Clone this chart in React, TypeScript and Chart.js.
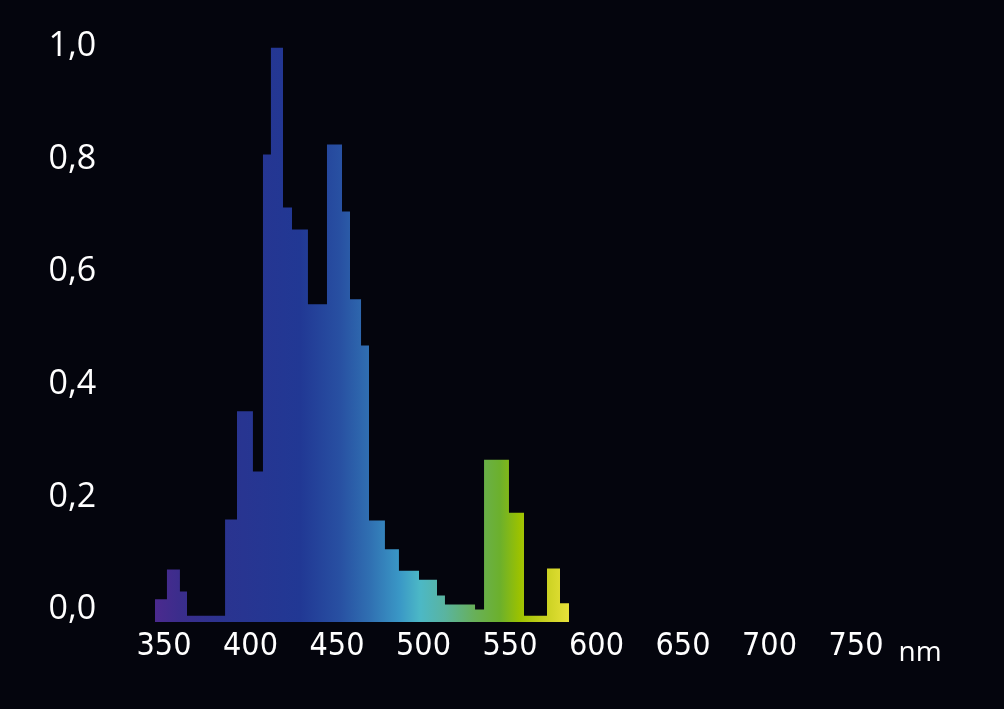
import React, { useEffect, useRef } from 'react';
import { Chart, registerables } from 'chart.js';

Chart.register(...registerables);

// Wavelength (nm) where each step of the spectrum begins
const binStarts = [
  344.8, 351.7, 359.2, 363.3, 385.3, 392.2, 401.4, 407.2, 411.8, 418.8,
  424.0, 433.2, 444.2, 452.9, 457.5, 463.9, 468.5, 477.7, 485.8, 497.4,
  507.8, 512.4, 529.8, 535.0, 549.4, 558.1, 571.4, 578.9,
];
const binEnd = 584.1;
// Relative intensity of each step
const intensities = [
  0.018, 0.071, 0.032, -0.011, 0.16, 0.352, 0.245, 0.808, 0.998, 0.714,
  0.675, 0.542, 0.826, 0.707, 0.551, 0.469, 0.158, 0.107, 0.069, 0.053,
  0.025, 0.009, 0.0, 0.266, 0.172, -0.011, 0.073, 0.011,
];
const xTickValues = [350, 400, 450, 500, 550, 600, 650, 700, 750];
const yTickValues = [0, 0.2, 0.4, 0.6, 0.8, 1.0];
const unitLabel = 'nm';
// Spectrum colours along wavelength
const colorStopNm = [344.8, 359.2, 385.3, 428.6, 451.7, 469.1, 486.4, 498, 512.4, 529.8, 544.2, 555.8, 570.2, 584.1];
const colorStopColors = [
  '#4b2a8e', '#3b2d8c', '#2a3490', '#213894', '#2850a2', '#3070b2', '#3a98c6',
  '#4cb8c6', '#5ab4a0', '#68b058', '#6cb02c', '#9cc200', '#c8d020', '#e8e23a',
];

const BG = '#04050d';
const X_FONT = "'DejaVu Sans Condensed', 'Liberation Sans Narrow', sans-serif";
const Y_FONT = "'Open Sans', 'DejaVu Sans', sans-serif";

// layout targets (pixels)
const ZERO_PX = 609.5;
const ONE_PX = 46.5;
const LABEL_LEFT = 48.5;
const PLOT_LEFT = 146.7;

const unitPlugin = {
  id: 'unitLabel',
  afterDraw(chart: any) {
    const xs = chart.scales.x;
    const ctx = chart.ctx;
    ctx.save();
    ctx.fillStyle = '#ffffff';
    ctx.font = `28px ${Y_FONT}`;
    ctx.textAlign = 'center';
    ctx.textBaseline = 'alphabetic';
    ctx.fillText(unitLabel, xs.getPixelForValue(787), chart.chartArea.bottom + 39);
    ctx.restore();
  },
};

function spectrumFill(c: any) {
  const ch = c.chart;
  const xs = ch.scales && ch.scales.x;
  if (!xs || !ch.chartArea) return '#2a3a94';
  const x0 = xs.getPixelForValue(colorStopNm[0]);
  const x1 = xs.getPixelForValue(colorStopNm[colorStopNm.length - 1]);
  if (!isFinite(x0) || !isFinite(x1) || x0 === x1) return '#2a3a94';
  const g = ch.ctx.createLinearGradient(x0, 0, x1, 0);
  const span = colorStopNm[colorStopNm.length - 1] - colorStopNm[0];
  colorStopNm.forEach((nm, i) => {
    g.addColorStop((nm - colorStopNm[0]) / span, colorStopColors[i]);
  });
  return g;
}

export default function App() {
  const ref = useRef<HTMLCanvasElement>(null);
  useEffect(() => {
    document.body.style.margin = '0';
    document.body.style.background = BG;
    const points = binStarts.map((x, i) => ({ x, y: intensities[i] }));
    points.push({ x: binEnd, y: intensities[intensities.length - 1] });
    const chart = new Chart(ref.current as HTMLCanvasElement, {
      type: 'line',
      data: {
        datasets: [
          {
            data: points,
            stepped: true,
            fill: 'start',
            borderWidth: 0,
            borderColor: 'rgba(0,0,0,0)',
            pointRadius: 0,
            backgroundColor: spectrumFill,
          } as any,
        ],
      },
      options: {
        animation: false,
        responsive: false,
        maintainAspectRatio: false,
        layout: { padding: { top: 25, right: 61.5, bottom: 0, left: LABEL_LEFT } },
        plugins: { legend: { display: false }, tooltip: { enabled: false } },
        scales: {
          x: {
            type: 'linear',
            min: 340,
            max: 800,
            grid: { display: false, drawTicks: false },
            border: { display: false },
            afterBuildTicks: (s: any) => {
              s.ticks = xTickValues.map((v) => ({ value: v }));
            },
            afterFit: (s: any) => {
              s.height = 87;
            },
            ticks: {
              color: '#ffffff',
              font: { family: X_FONT, size: 32 },
              padding: 5,
              maxRotation: 0,
              autoSkip: false,
              callback: (v: any) => String(v),
            },
          },
          y: {
            type: 'linear',
            min: -0.0213,
            max: 1.1,
            grid: { display: false, drawTicks: false },
            border: { display: false },
            afterBuildTicks: (s: any) => {
              s.ticks = yTickValues.map((v) => ({ value: v }));
            },
            afterFit: (s: any) => {
              s.width = PLOT_LEFT - LABEL_LEFT;
            },
            ticks: {
              color: '#ffffff',
              font: { family: Y_FONT, size: 34 },
              padding: 0,
              crossAlign: 'far',
              callback: (v: any) => Number(v).toFixed(1).replace('.', ','),
            },
          },
        },
      },
      plugins: [unitPlugin],
    });
    // place value 0 and 1 at the target pixels whatever the chart area turned out to be
    const area = chart.chartArea;
    const pxPerUnit = ZERO_PX - ONE_PX;
    const yMin = -(area.bottom - ZERO_PX) / pxPerUnit;
    const yMax = yMin + (area.bottom - area.top) / pxPerUnit;
    (chart.options.scales as any).y.min = yMin;
    (chart.options.scales as any).y.max = yMax;
    chart.update();
    return () => chart.destroy();
  }, []);
  return (
    <div style={{ position: 'fixed', left: 0, top: 0, width: 1004, height: 709, background: BG }}>
      <canvas ref={ref} width={1004} height={709} style={{ display: 'block' }} />
    </div>
  );
}
